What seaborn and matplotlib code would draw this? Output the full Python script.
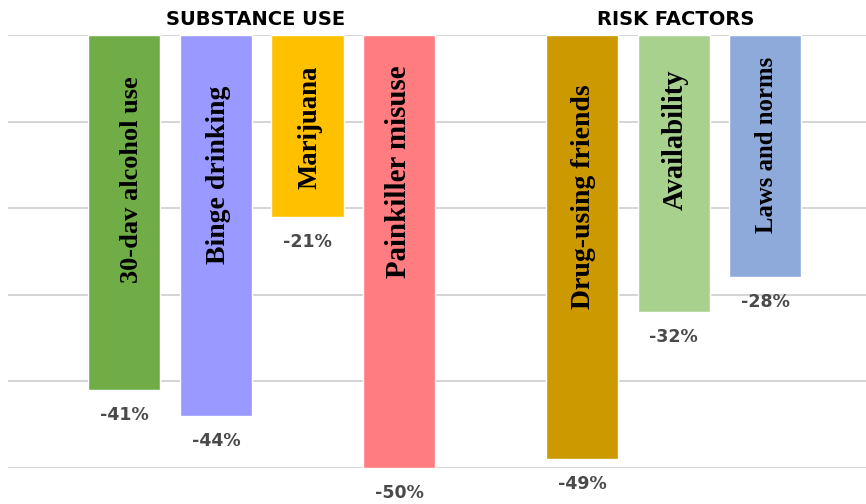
import matplotlib
matplotlib.use("Agg")
import matplotlib.pyplot as plt
import seaborn as sns
import pandas as pd

# ---- data ----
categories = ["30-dav alcohol use", "Binge drinking", "Marijuana", "Painkiller misuse",
              "Drug-using friends", "Availability", "Laws and norms"]
values = [-41, -44, -21, -50, -49, -32, -28]
groups = ["SUBSTANCE USE", "SUBSTANCE USE", "SUBSTANCE USE", "SUBSTANCE USE",
          "RISK FACTORS", "RISK FACTORS", "RISK FACTORS"]
value_labels = ["-41%", "-44%", "-21%", "-50%", "-49%", "-32%", "-28%"]
colors = ["#70ad47", "#9999ff", "#ffc000", "#ff7c80", "#cc9900", "#a9d18e", "#8eaadb"]

# ---- layout / style ----
label_y = [-16.7, -16.2, -10.7, -15.8, -18.7, -12.1, -12.7]
label_dx = [0.08, 0.03, 0.03, 0.0, 0.02, 0.02, 0.01]
label_size = [19.0, 20.0, 19.3, 20.8, 20.0, 20.6, 17.8]
spacer = " "
order = categories[:4] + [spacer] + categories[4:]

df = pd.DataFrame({"category": categories, "value": values, "group": groups})

sns.set_theme(style="white")
plt.rcParams["font.family"] = ["DejaVu Sans"]

fig = plt.figure(figsize=(8.66, 5.04), dpi=100)
ax = fig.add_axes([8 / 866, 1 - 468 / 504, 1 - 8 / 866, (468 - 35) / 504])

sns.barplot(data=df, x="category", y="value", hue="category", order=order,
            hue_order=categories, palette=dict(zip(categories, colors)),
            width=0.79, legend=False, ax=ax, saturation=1, errorbar=None)

ax.set_ylim(-50, 0)
ax.set_xlim(-1.27, 8.1)
ax.set_yticks([0, -10, -20, -30, -40, -50])
ax.set_yticklabels([])
ax.set_xticks([])
ax.set_xlabel("")
ax.set_ylabel("")
ax.grid(axis="y", color="#d4d4d4", linewidth=1.4)
ax.set_axisbelow(True)
for s in ax.spines.values():
    s.set_visible(False)

pos = [order.index(c) for c in categories]
for i, (p, c, v, vl) in enumerate(zip(pos, categories, values, value_labels)):
    ax.text(p + label_dx[i], label_y[i], c, rotation=90, ha="center", va="center",
            fontsize=label_size[i], fontweight="bold",
            family=["Liberation Serif", "DejaVu Serif"], color="black")
    ax.annotate(vl, xy=(p, v), xytext=(0, -18), textcoords="offset points",
                ha="center", va="center", fontsize=12.5, fontweight="bold",
                color="#4a4a4a", annotation_clip=False)

# group headers
sub_pos = [pos[i] for i, g in enumerate(groups) if g == "SUBSTANCE USE"]
risk_pos = [pos[i] for i, g in enumerate(groups) if g == "RISK FACTORS"]
for gname, gp in [("SUBSTANCE USE", sub_pos), ("RISK FACTORS", risk_pos)]:
    ax.annotate(gname, xy=(sum(gp) / len(gp) + (0.02 if gname == "RISK FACTORS" else -0.07), 0),
                xytext=(0, 11), textcoords="offset points", ha="center", va="center",
                fontsize=14, fontweight="bold", color="black", annotation_clip=False)

fig.savefig("out.png", dpi=100)
